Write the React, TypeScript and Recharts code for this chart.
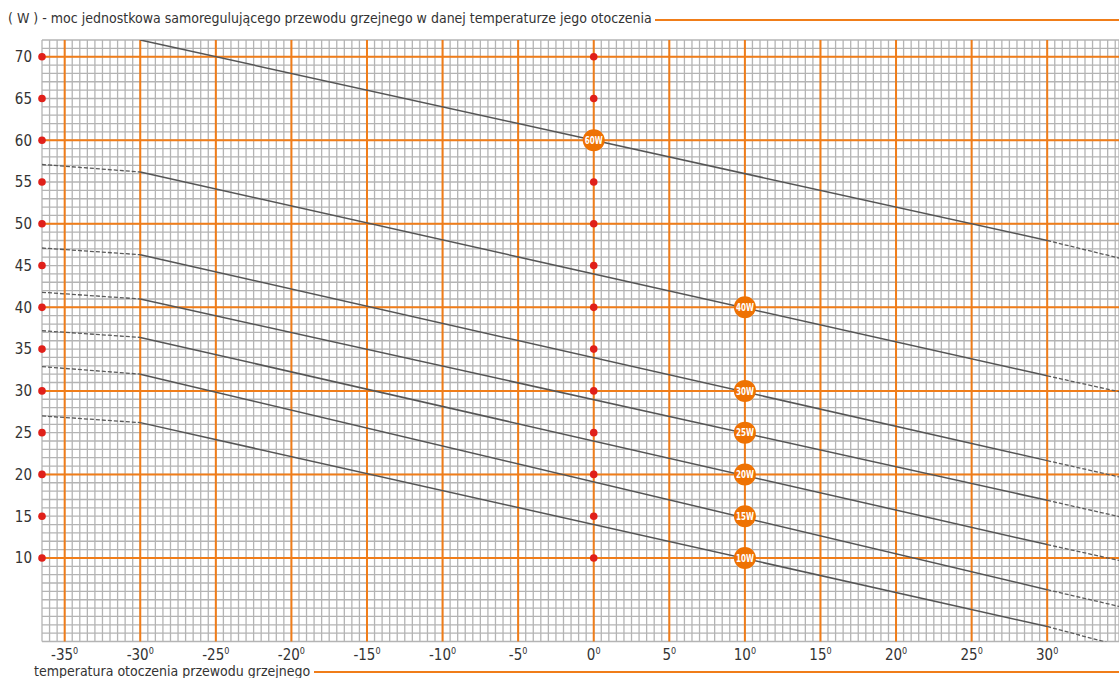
import React from "react";
import {
  ComposedChart,
  Line,
  Scatter,
  XAxis,
  YAxis,
  CartesianGrid,
  ReferenceLine,
} from "recharts";

const FONT = "'DejaVu Sans Condensed', 'Liberation Sans', sans-serif";
const ORANGE = "#f07d19";
const BADGE = "#ee7203";
const RED = "#e0201a";
const GRID = "#b4b4b4";
const INK = "#555";

// axes
const xMin = -36.5;
const xMax = 34.75;
const yMin = 0;
const yMax = 72;
const xMajor = [-35, -30, -25, -20, -15, -10, -5, 0, 5, 10, 15, 20, 25, 30];
const yMajor = [10, 20, 30, 40, 50, 60, 70];
const yTicks = [10, 15, 20, 25, 30, 35, 40, 45, 50, 55, 60, 65, 70];
// fine paper grid: every 0.5 deg and every 1 W
const xMinor = Array.from({ length: 143 }, (_, i) => xMin + i * 0.5);
const yMinor = Array.from({ length: 73 }, (_, i) => i);

// each cable curve read at: left edge, -30, +30, right edge
const curveX = [-36.5, -30, 30, 34.75];
const w60 = [null, 72, 48, 45.9];
const w40 = [57.1, 56.2, 31.8, 29.9];
const w30 = [47.1, 46.3, 21.65, 19.7];
const w25 = [41.8, 41.0, 16.9, 14.95];
const w20 = [37.2, 36.4, 11.6, 9.7];
const w15 = [32.9, 32.0, 6.2, 4.2];
const w10 = [27.0, 26.2, 1.8, -0.5];
const curves = [w60, w40, w30, w25, w20, w15, w10];

// orange rating badges
const badgeLabels = ["60W", "40W", "30W", "25W", "20W", "15W", "10W"];
const badgeX = [0, 10, 10, 10, 10, 10, 10];
const badgeY = [60, 40, 30, 25, 20, 15, 10];

// red reference dots on the axis and at 0 deg
const dotYs = [10, 15, 20, 25, 30, 35, 40, 45, 50, 55, 60, 65, 70];

const seg = (ys: (number | null)[], a: number, b: number) =>
  curveX.slice(a, b + 1).map((x, i) => ({ x, y: ys[a + i] }));

const leftDots = dotYs.map((y) => ({ x: xMin, y }));
const midDots = dotYs.map((y) => ({ x: 0, y }));
const badges = badgeLabels.map((label, i) => ({ x: badgeX[i], y: badgeY[i], label }));

function DegTick({ x, y, payload }: any) {
  return (
    <text x={x} y={y + 10.5} textAnchor="middle" fontSize={15} fill="#333" fontFamily={FONT}>
      {payload.value}
      <tspan dy={-6} fontSize={9}>0</tspan>
    </text>
  );
}

function RedDot({ cx, cy }: any) {
  return <circle cx={cx} cy={cy} r={3.8} fill={RED} />;
}

function Badge({ cx, cy, payload }: any) {
  return (
    <g>
      <circle cx={cx} cy={cy} r={11} fill={BADGE} />
      <text
        x={cx}
        y={cy + 3.7}
        textAnchor="middle"
        fontSize={10.5}
        fontWeight="bold"
        fill="#fff"
        fontFamily={FONT}
        textLength={18}
        lengthAdjust="spacingAndGlyphs"
      >
        {payload.label}
      </text>
    </g>
  );
}

export default function App() {
  return (
    <div style={{ position: "absolute", left: 0, top: 0, width: 1119, height: 678, background: "#fff", fontFamily: FONT, overflow: "hidden" }}>
      <div style={{ position: "absolute", left: 8, top: 10, right: 0, display: "flex", alignItems: "center", color: "#333", fontSize: 14, lineHeight: "16px" }}>
        <span style={{ whiteSpace: "nowrap" }}>
          ( W ) - moc jednostkowa samoregulującego przewodu grzejnego w danej temperaturze jego otoczenia
        </span>
        <div style={{ flex: 1, borderTop: `2px solid ${ORANGE}`, marginLeft: 3, marginTop: 3 }} />
      </div>

      <ComposedChart width={1119} height={678} margin={{ top: 40, right: 0, bottom: 0, left: 0 }}>
        <XAxis xAxisId="minor" type="number" dataKey="x" domain={[xMin, xMax]} ticks={xMinor} interval={0} hide />
        <YAxis yAxisId="minor" type="number" domain={[yMin, yMax]} ticks={yMinor} interval={0} hide />
        <CartesianGrid xAxisId="minor" yAxisId="minor" stroke={GRID} strokeWidth={1.3} fill="#fff" />

        <XAxis
          type="number"
          dataKey="x"
          domain={[xMin, xMax]}
          ticks={xMajor}
          interval={0}
          allowDataOverflow
          axisLine={false}
          tickLine={false}
          height={36.5}
          tick={<DegTick />}
        />
        <YAxis
          type="number"
          dataKey="y"
          domain={[yMin, yMax]}
          ticks={yTicks}
          interval={0}
          allowDataOverflow
          axisLine={false}
          tickLine={false}
          width={42}
          tickMargin={4}
          tick={{ fontSize: 15, fill: "#333", fontFamily: FONT }}
        />

        {xMajor.map((v) => (
          <ReferenceLine key={"vx" + v} x={v} stroke={ORANGE} strokeWidth={2} />
        ))}
        {yMajor.map((v) => (
          <ReferenceLine key={"hy" + v} y={v} stroke={ORANGE} strokeWidth={2} />
        ))}

        {curves.map((ys, i) => (
          <Line key={"l" + i} data={seg(ys, 0, 1)} dataKey="y" stroke="#5a5a5a" strokeWidth={1.3} strokeDasharray="4 2" dot={false} isAnimationActive={false} />
        ))}
        {curves.map((ys, i) => (
          <Line key={"s" + i} data={seg(ys, 1, 2)} dataKey="y" stroke={INK} strokeWidth={1.5} dot={false} isAnimationActive={false} />
        ))}
        {curves.map((ys, i) => (
          <Line key={"r" + i} data={seg(ys, 2, 3)} dataKey="y" stroke="#5a5a5a" strokeWidth={1.3} strokeDasharray="4 2" dot={false} isAnimationActive={false} />
        ))}

        {/* dots and badges sit on the unclipped grid axes */}
        <Scatter xAxisId="minor" yAxisId="minor" data={leftDots} dataKey="y" shape={<RedDot />} isAnimationActive={false} />
        <Scatter xAxisId="minor" yAxisId="minor" data={midDots} dataKey="y" shape={<RedDot />} isAnimationActive={false} />
        <Scatter xAxisId="minor" yAxisId="minor" data={badges} dataKey="y" shape={<Badge />} isAnimationActive={false} />
      </ComposedChart>

      <div style={{ position: "absolute", left: 34, top: 664, right: 0, display: "flex", alignItems: "center", color: "#333", fontSize: 14, lineHeight: "14px" }}>
        <span style={{ whiteSpace: "nowrap" }}>temperatura otoczenia przewodu grzejnego</span>
        <div style={{ flex: 1, borderTop: `2px solid ${ORANGE}`, marginLeft: 4, marginTop: 1 }} />
      </div>
    </div>
  );
}
